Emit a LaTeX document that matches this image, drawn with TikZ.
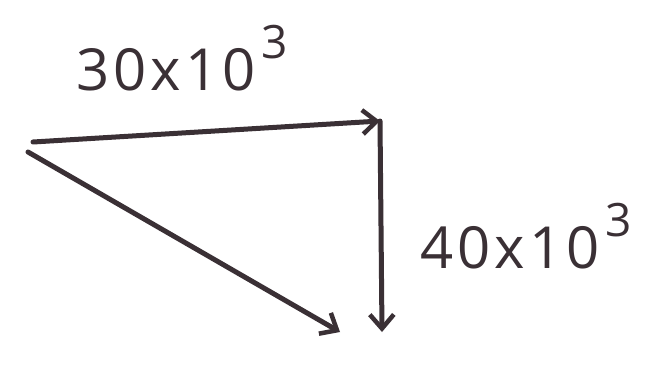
\documentclass[tikz,border=0pt]{standalone}
\usepackage{fontspec}
\setmainfont{Open Sans}[LetterSpace=7]
\usetikzlibrary{arrows.meta}
\definecolor{ink}{HTML}{3A3035}
\newcommand{\hsup}[1]{\hspace{6pt}\raisebox{0.55em}{\fontsize{46}{50}\selectfont #1}}
\tikzset{
  vec/.style={draw=ink, line width=5pt, line cap=round, line join=round,
    -{Straight Barb[length=14pt,width=24pt,line width=4.5pt]}},
  lbl/.style={text=ink, font=\fontsize{58}{64}\selectfont, inner sep=0pt}
}
\begin{document}
\begin{tikzpicture}[x=1pt,y=-1pt]
\useasboundingbox (0,0) rectangle (655,370);
\fill[white] (0,0) rectangle (655,370);
\coordinate (O1) at (33,142);
\coordinate (O2) at (28,152);
\coordinate (A) at (380,121);
\coordinate (B) at (382,332);
\coordinate (C) at (340,332);
\draw[vec] (O1) -- (A);
\draw[vec] (A) -- (B);
\draw[vec] (O2) -- (C);
\node[lbl, anchor=base west] (l1) at (76,90) {30x10\hsup{3}};
\node[lbl, anchor=base west] (l2) at (420,268) {40x10\hsup{3}};
\end{tikzpicture}
\end{document}
